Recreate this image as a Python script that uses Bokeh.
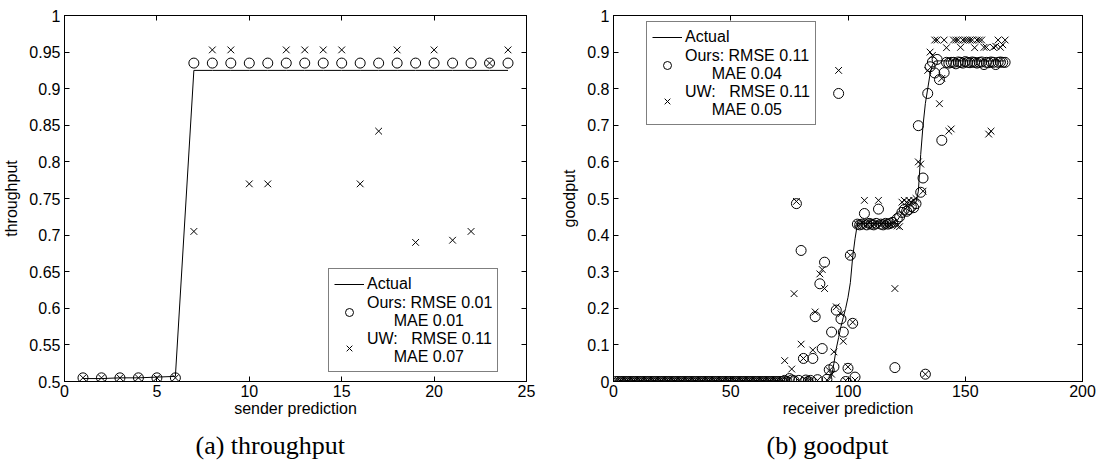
from bokeh.core.properties import value
from bokeh.embed import file_html
from bokeh.layouts import row
from bokeh.models import (CustomJSTickFormatter, FixedTicker, Legend, LegendItem,
                          LinearAxis, Range1d, Title)
from bokeh.plotting import figure
from bokeh.resources import INLINE

SANS = "Liberation Sans"
SERIF = "Liberation Serif"
NB = "\u00a0"

# ---------------- (a) sender-side throughput prediction ----------------
tp_sample = [1, 2, 3, 4, 5, 6, 7, 8, 9, 10, 11, 12,
             13, 14, 15, 16, 17, 18, 19, 20, 21, 22, 23, 24]
tp_actual = [0.504, 0.504, 0.505, 0.505, 0.506, 0.507, 0.925, 0.925, 0.925, 0.925, 0.925, 0.925,
             0.925, 0.925, 0.925, 0.925, 0.925, 0.925, 0.925, 0.925, 0.925, 0.925, 0.925, 0.925]
tp_ours = [0.505, 0.505, 0.505, 0.505, 0.505, 0.505, 0.935, 0.935, 0.935, 0.935, 0.935, 0.935,
           0.935, 0.935, 0.935, 0.935, 0.935, 0.935, 0.935, 0.935, 0.935, 0.935, 0.935, 0.935]
tp_uw = [0.505, 0.505, 0.505, 0.505, 0.505, 0.505, 0.705, 0.953, 0.953, 0.77, 0.77, 0.953,
         0.953, 0.953, 0.953, 0.77, 0.842, 0.953, 0.69, 0.953, 0.693, 0.705, 0.935, 0.953]
tp_x_ticks = [0, 5, 10, 15, 20, 25]
tp_y_ticks = [0.5, 0.55, 0.6, 0.65, 0.7, 0.75, 0.8, 0.85, 0.9, 0.95, 1.0]
tp_y_labels = ["0.5", "0.55", "0.6", "0.65", "0.7", "0.75", "0.8", "0.85", "0.9", "0.95", "1"]
tp_legend = ["Actual",
             "Ours: RMSE 0.01\n" + NB * 6 + "MAE 0.01",
             "UW:" + NB * 3 + "RMSE 0.11\n" + NB * 6 + "MAE 0.07"]

# ---------------- (b) receiver-side goodput prediction ----------------
gp_sample = list(range(1, 168))
gp_actual = [
    0, 0, 0, 0, 0, 0, 0, 0, 0, 0,
    0, 0, 0, 0, 0, 0, 0, 0, 0, 0,
    0, 0, 0, 0, 0, 0, 0, 0, 0, 0,
    0, 0, 0, 0, 0, 0, 0, 0, 0, 0,
    0, 0, 0, 0, 0, 0, 0, 0, 0, 0,
    0, 0, 0, 0, 0, 0, 0, 0, 0, 0,
    0, 0, 0, 0, 0, 0, 0, 0, 0, 0,
    0, 0, 0, 0, 0, 0, 0, 0, 0, 0,
    0, 0, 0, 0, 0, 0, 0, 0, 0, 0,
    0.0, 0.005, 0.014, 0.05, 0.09, 0.12, 0.15, 0.175, 0.2, 0.23,
    0.27, 0.34, 0.39, 0.43,
    0.432, 0.432, 0.432, 0.432, 0.432, 0.432, 0.432, 0.432, 0.432, 0.432,
    0.432, 0.432, 0.432, 0.432, 0.432,
    0.433, 0.44, 0.45, 0.46, 0.47, 0.475, 0.48, 0.48, 0.485, 0.49,
    0.52, 0.62, 0.70, 0.76, 0.80, 0.84, 0.865, 0.875,
    0.876, 0.876, 0.876, 0.876, 0.876, 0.876, 0.876, 0.876, 0.876, 0.876,
    0.876, 0.876, 0.876, 0.876, 0.876, 0.876, 0.876, 0.876, 0.876, 0.876,
    0.876, 0.876, 0.876, 0.876, 0.876, 0.876, 0.876, 0.876, 0.876, 0.876,
]
gp_ours = [
    0, 0, 0, 0, 0, 0, 0, 0, 0, 0,
    0, 0, 0, 0, 0, 0, 0, 0, 0, 0,
    0, 0, 0, 0, 0, 0, 0, 0, 0, 0,
    0, 0, 0, 0, 0, 0, 0, 0, 0, 0,
    0, 0, 0, 0, 0, 0, 0, 0, 0, 0,
    0, 0, 0, 0, 0, 0, 0, 0, 0, 0,
    0, 0, 0, 0, 0, 0, 0, 0, 0, 0,
    0, 0,
    0.003, 0.0, 0.008, 0.004, 0.002, 0.486, 0.003, 0.358, 0.063, 0.004,
    0.0, 0.003, 0.063, 0.177, 0.005, 0.267, 0.09, 0.326, 0.006, 0.032,
    0.135, 0.04, 0.195, 0.787, 0.171, 0.135, 0.0, 0.036, 0.345, 0.159,
    0.012, 0.43,
    0.428, 0.43, 0.459, 0.428, 0.432, 0.43, 0.428, 0.432, 0.471, 0.43,
    0.428, 0.432, 0.43, 0.432, 0.435, 0.038, 0.445, 0.45, 0.462, 0.47,
    0.465, 0.47, 0.478, 0.475, 0.486, 0.699, 0.517, 0.556, 0.02, 0.787,
    0.86, 0.873, 0.843, 0.88, 0.825, 0.659, 0.844, 0.872, 0.870, 0.872,
    0.872, 0.868, 0.873, 0.872, 0.870, 0.874, 0.872, 0.871, 0.873, 0.872,
    0.870, 0.872, 0.873, 0.866, 0.872, 0.871, 0.873, 0.872, 0.866, 0.872,
    0.873, 0.872, 0.872,
]
gp_uw = [
    0, 0, 0, 0, 0, 0, 0, 0, 0, 0,
    0, 0, 0, 0, 0, 0, 0, 0, 0, 0,
    0, 0, 0, 0, 0, 0, 0, 0, 0, 0,
    0, 0, 0, 0, 0, 0, 0, 0, 0, 0,
    0, 0, 0, 0, 0, 0, 0, 0, 0, 0,
    0, 0, 0, 0, 0, 0, 0, 0, 0, 0,
    0, 0, 0, 0, 0, 0, 0, 0, 0, 0,
    0, 0,
    0.057, 0.003, 0.004, 0.034, 0.24, 0.492, 0.002, 0.102, 0.063, 0.004,
    0.003, 0.002, 0.086, 0.19, 0.003, 0.294, 0.306, 0.254, 0.004, 0.03,
    0.02, 0.081, 0.204, 0.85, 0.185, 0.11, 0.003, 0.04, 0.345, 0.162,
    0.004, 0.43,
    0.43, 0.432, 0.495, 0.43, 0.435, 0.428, 0.43, 0.432, 0.495, 0.43,
    0.432, 0.43, 0.428, 0.43, 0.432, 0.254, 0.425, 0.423, 0.49, 0.495,
    0.49, 0.495, 0.49, 0.495, 0.5, 0.6, 0.594, 0.52, 0.02, 0.85,
    0.9, 0.891, 0.933, 0.933, 0.759, 0.828, 0.933, 0.912, 0.684, 0.69,
    0.933, 0.933, 0.933, 0.913, 0.933, 0.933, 0.933, 0.933, 0.933, 0.912,
    0.933, 0.933, 0.933, 0.913, 0.913, 0.676, 0.684, 0.913, 0.916, 0.933,
    0.913, 0.92, 0.933,
]
gp_x_ticks = [0, 50, 100, 150, 200]
gp_y_ticks = [0.0, 0.1, 0.2, 0.3, 0.4, 0.5, 0.6, 0.7, 0.8, 0.9, 1.0]
gp_y_labels = ["0", "0.1", "0.2", "0.3", "0.4", "0.5", "0.6", "0.7", "0.8", "0.9", "1"]
gp_legend = ["Actual",
             "Ours: RMSE 0.11\n" + NB * 6 + "MAE 0.04",
             "UW:" + NB * 3 + "RMSE 0.11\n" + NB * 6 + "MAE 0.05"]

assert len(gp_actual) == len(gp_ours) == len(gp_uw) == len(gp_sample)


def style_axis(ax, standoff, label_standoff):
    ax.axis_line_color = "black"
    ax.major_tick_line_color = "black"
    ax.major_tick_in = 5
    ax.major_tick_out = 0
    ax.minor_tick_line_color = None
    ax.major_label_text_font = SANS
    ax.major_label_text_font_size = "16px"
    ax.major_label_text_color = "black"
    ax.major_label_standoff = standoff
    ax.axis_label_text_font = SANS
    ax.axis_label_text_font_size = "16px"
    ax.axis_label_text_font_style = "normal"
    ax.axis_label_text_color = "black"
    ax.axis_label_standoff = label_standoff


def mirror_axis(ticks):
    ax = LinearAxis(ticker=FixedTicker(ticks=ticks),
                    formatter=CustomJSTickFormatter(code="return ''"))
    style_axis(ax, 0, 0)
    ax.major_label_text_font_size = "0px"
    return ax


def panel(sample, actual, ours, uw, labels, x_max, y_min, x_ticks, y_ticks, y_labels,
          x_label, y_label, caption, caption_shift, borders, legend_at):
    left, right, top = borders
    p = figure(width=550, height=468, title=None, output_backend="svg",
               toolbar_location=None,
               x_range=Range1d(0, x_max), y_range=Range1d(y_min, 1.0),
               min_border_left=left, min_border_right=right,
               min_border_top=top, min_border_bottom=86,
               background_fill_color="white", border_fill_color="white")
    p.grid.visible = False
    p.outline_line_color = "black"
    p.outline_line_width = 1

    p.xaxis.ticker = FixedTicker(ticks=x_ticks)
    p.yaxis.ticker = FixedTicker(ticks=y_ticks)
    p.yaxis.major_label_overrides = dict(zip(y_ticks, y_labels))
    p.xaxis.axis_label = x_label
    p.yaxis.axis_label = y_label
    style_axis(p.xaxis[0], 3, 0)
    style_axis(p.yaxis[0], 4, 6)
    p.add_layout(mirror_axis(x_ticks), "above")
    p.add_layout(mirror_axis(y_ticks), "right")

    r_actual = p.line(sample, actual, line_color="black", line_width=1)
    r_ours = p.scatter(sample, ours, marker="circle", size=10, fill_color=None,
                       line_color="black", line_width=1)
    r_uw = p.scatter(sample, uw, marker="x", size=9.5, line_color="black", line_width=1)

    legend = Legend(items=[LegendItem(label=value(labels[0]), renderers=[r_actual]),
                           LegendItem(label=value(labels[1]), renderers=[r_ours]),
                           LegendItem(label=value(labels[2]), renderers=[r_uw])],
                    location=legend_at)
    legend.border_line_color = "black"
    legend.border_line_width = 1
    legend.background_fill_color = "white"
    legend.background_fill_alpha = 1
    legend.padding = 5
    legend.margin = 0
    legend.spacing = 0
    legend.label_standoff = 3
    legend.glyph_width = 30
    legend.glyph_height = 20
    legend.label_height = 20
    legend.label_text_font = SANS
    legend.label_text_font_size = "16px"
    legend.label_text_color = "black"
    p.add_layout(legend)

    cap = Title(text=caption, align="left", offset=caption_shift, standoff=18,
                text_font=SERIF, text_font_size="26px", text_font_style="normal",
                text_color="black")
    p.add_layout(cap, "below")
    return p


left_panel = panel(tp_sample, tp_actual, tp_ours, tp_uw, tp_legend, 25, 0.5,
                   tp_x_ticks, tp_y_ticks, tp_y_labels,
                   "sender prediction", "throughput", "(a) throughput", 131,
                   (61, 24, 15), (264, 9))
right_panel = panel(gp_sample, gp_actual, gp_ours, gp_uw, gp_legend, 200, 0.0,
                    gp_x_ticks, gp_y_ticks, gp_y_labels,
                    "receiver prediction", "goodput", "(b) goodput", 153,
                    (63, 18, 11), (33, 256))

layout = row(left_panel, right_panel, spacing=0)
open("out.html", "w").write(file_html(layout, INLINE))
